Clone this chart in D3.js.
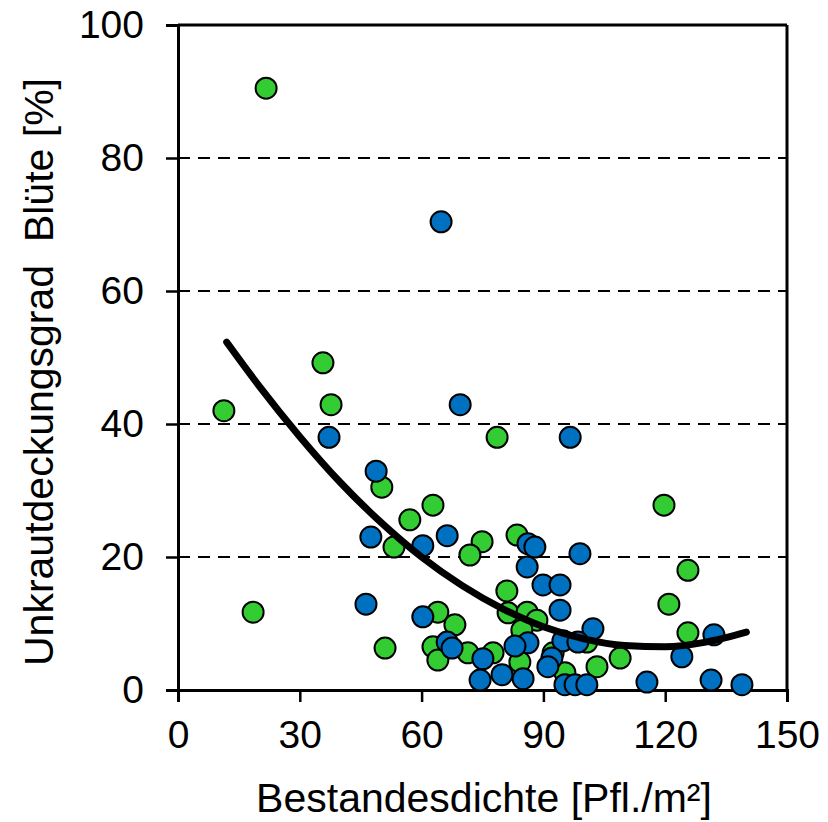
<!DOCTYPE html>
<html>
<head>
<meta charset="utf-8">
<script src="https://cdn.jsdelivr.net/npm/d3@7"></script>
<style>
  body { margin: 0; background: #fff; }
  text { font-family: "Liberation Sans", Arial, sans-serif; fill: #000; }
</style>
</head>
<body>
<svg width="828" height="822"></svg>
<script>
// Daten
const greenX = [21.7, 11.3, 18.5, 35.7, 37.7, 50.2, 51.0, 57.1, 53.2, 62.8, 74.9, 71.9, 78.6, 119.7, 120.9, 125.6, 125.6, 108.9, 103.2, 64.0, 68.2, 62.8, 64.0, 71.4, 83.5, 81.0, 81.3, 86.0, 88.4, 84.7, 77.6, 84.2, 92.4, 95.3, 100.7]
const greenY = [90.5, 42.0, 11.7, 49.2, 42.9, 30.5, 6.3, 25.6, 21.5, 27.8, 22.3, 20.3, 38.0, 27.8, 12.9, 18.0, 8.6, 4.8, 3.5, 11.7, 9.8, 6.5, 4.5, 5.6, 23.3, 14.9, 11.6, 11.7, 10.5, 9.0, 5.6, 4.2, 5.6, 2.6, 7.2]

const blueX = [64.8, 37.2, 69.5, 96.6, 48.8, 47.5, 66.3, 60.3, 46.3, 60.3, 99.0, 86.0, 86.2, 87.9, 89.9, 94.1, 94.1, 102.2, 94.8, 98.5, 86.2, 66.3, 67.5, 75.1, 74.4, 79.8, 83.0, 85.0, 92.1, 91.1, 95.3, 97.8, 100.7, 115.5, 124.1, 132.0, 131.3, 138.9]
const blueY = [70.4, 38.0, 42.9, 38.0, 32.9, 23.0, 23.2, 21.7, 12.9, 11.0, 20.5, 18.5, 22.0, 21.5, 15.8, 15.8, 12.0, 9.2, 7.4, 7.2, 7.1, 7.2, 6.3, 4.7, 1.5, 2.3, 6.6, 1.7, 4.8, 3.5, 0.8, 0.8, 0.8, 1.2, 5.0, 8.3, 1.5, 0.8]

// Trendlinie
const trendX = [12, 20, 30, 40, 50, 60, 70, 80, 90, 100, 110, 120, 130, 140]
const trendY = [52.3, 45.7, 38.1, 31.2, 25.2, 20.0, 15.7, 12.2, 9.5, 7.7, 6.7, 6.5, 7.2, 8.7]

const xTicks = [0, 30, 60, 90, 120, 150]
const yTicks = [0, 20, 40, 60, 80, 100]

const margin = {top: 25, right: 41, bottom: 132, left: 178}
const width = 828
const height = 822
const innerW = width - margin.left - margin.right
const innerH = height - margin.top - margin.bottom

const svg = d3.select('svg')
const g = svg.append('g').attr('transform', `translate(${margin.left},${margin.top})`)

const x = d3.scaleLinear().domain([0, 150]).range([0, innerW])
const y = d3.scaleLinear().domain([0, 100]).range([innerH, 0])

// Gitterlinien
g.selectAll('.grid').data(yTicks.filter(d => d > 0 && d < 100)).enter().append('line')
  .attr('x1', 0).attr('x2', innerW)
  .attr('y1', d => y(d)).attr('y2', d => y(d))
  .attr('stroke', '#000').attr('stroke-width', 2)
  .attr('stroke-dasharray', '12,8')

// Rahmen oben / rechts
g.append('line').attr('x1', 0).attr('x2', innerW).attr('y1', 0).attr('y2', 0)
  .attr('stroke', '#000').attr('stroke-width', 3)
g.append('line').attr('x1', innerW).attr('x2', innerW).attr('y1', 0).attr('y2', innerH)
  .attr('stroke', '#000').attr('stroke-width', 3)

// Achsen
const xAxis = g.append('g').attr('transform', `translate(0,${innerH})`)
  .call(d3.axisBottom(x).tickValues(xTicks).tickSize(12).tickPadding(18))
const yAxis = g.append('g')
  .call(d3.axisLeft(y).tickValues(yTicks).tickSize(12).tickPadding(22))

;[xAxis, yAxis].forEach(a => {
  a.select('.domain').attr('stroke', '#000').attr('stroke-width', 3)
  a.selectAll('.tick line').attr('stroke', '#000').attr('stroke-width', 2.5)
  a.selectAll('.tick text').style('font-size', '39px')
    .style('font-family', '"Liberation Sans", Arial, sans-serif').attr('fill', '#000')
})

// Punkte
const green = greenX.map((d, i) => ({x: d, y: greenY[i]}))
const blue = blueX.map((d, i) => ({x: d, y: blueY[i]}))

g.selectAll('.green').data(green).enter().append('circle')
  .attr('cx', d => x(d.x)).attr('cy', d => y(d.y)).attr('r', 10.5)
  .attr('fill', '#33cc33').attr('stroke', '#000').attr('stroke-width', 2)

g.selectAll('.blue').data(blue).enter().append('circle')
  .attr('cx', d => x(d.x)).attr('cy', d => y(d.y)).attr('r', 10.5)
  .attr('fill', '#0070c0').attr('stroke', '#000').attr('stroke-width', 2)

// Trendlinie
const line = d3.line().x(d => x(d[0])).y(d => y(d[1])).curve(d3.curveMonotoneX)
g.append('path').datum(trendX.map((d, i) => [d, trendY[i]]))
  .attr('d', line).attr('fill', 'none').attr('stroke', '#000')
  .attr('stroke-width', 7).attr('stroke-linecap', 'round')

// Achsentitel
svg.append('text').attr('x', 484).attr('y', 812).attr('text-anchor', 'middle')
  .style('font-size', '41px').text('Bestandesdichte [Pfl./m²]')

svg.append('text').attr('transform', 'translate(53,372) rotate(-90)').attr('text-anchor', 'middle')
  .style('font-size', '41px').style('white-space', 'pre').text('Unkrautdeckungsgrad  Blüte [%]')
</script>
</body>
</html>
